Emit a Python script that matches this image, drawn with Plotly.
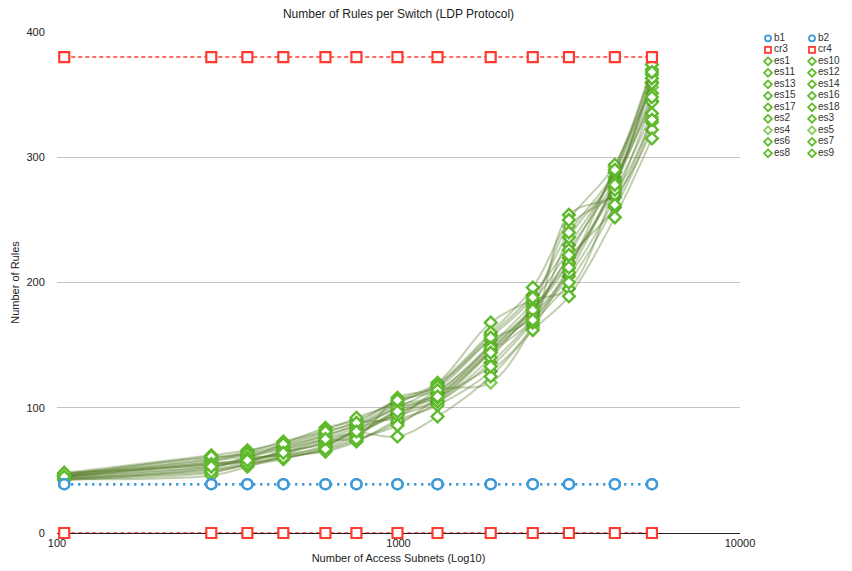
import plotly.graph_objects as go

# Number of access subnets (x, log scale)
subnets = [105, 283, 361, 460, 611, 753, 993, 1301, 1862, 2473, 3155, 4300, 5522]

# Border / core switches
b1 = [39, 39, 39, 39, 39, 39, 39, 39, 39, 39, 39, 39, 39]
b2 = [39, 39, 39, 39, 39, 39, 39, 39, 39, 39, 39, 39, 39]
cr3 = [380, 380, 380, 380, 380, 380, 380, 380, 380, 380, 380, 380, 380]
cr4 = [0, 0, 0, 0, 0, 0, 0, 0, 0, 0, 0, 0, 0]

# Edge switches
es1 = [45, 55, 58, 64, 72, 80, 95, 112, 150, 178, 215, 280, 360]
es2 = [47, 60, 62, 68, 78, 86, 104, 118, 158, 190, 230, 288, 370]
es3 = [43, 48, 55, 60, 66, 74, 88, 104, 136, 170, 205, 268, 345]
es4 = [44, 52, 60, 62, 70, 82, 100, 108, 146, 182, 245, 272, 332]
es5 = [46, 57, 64, 70, 80, 88, 92, 114, 120, 164, 211, 292, 356]
es6 = [42, 50, 54, 59, 68, 78, 96, 106, 144, 176, 220, 260, 328]
es7 = [48, 62, 66, 72, 84, 90, 106, 120, 168, 186, 195, 276, 366]
es8 = [45, 54, 57, 66, 74, 76, 108, 116, 154, 172, 236, 284, 351]
es9 = [43, 46, 53, 61, 65, 73, 90, 102, 129, 166, 254, 270, 322]
es10 = [46, 58, 61, 67, 76, 84, 102, 110, 150, 184, 226, 282, 359]
es11 = [44, 53, 59, 63, 73, 80, 77, 93, 125, 162, 189, 252, 315]
es12 = [47, 59, 65, 73, 82, 92, 104, 119, 160, 196, 250, 294, 374]
es13 = [45, 56, 57, 65, 71, 79, 98, 111, 146, 174, 208, 280, 344]
es14 = [43, 51, 56, 62, 69, 83, 94, 105, 140, 180, 216, 274, 335]
es15 = [46, 61, 63, 69, 78, 86, 100, 117, 156, 188, 240, 288, 363]
es16 = [44, 49, 55, 60, 67, 75, 86, 108, 133, 168, 200, 262, 330]
es17 = [48, 55, 60, 71, 81, 88, 106, 114, 148, 178, 222, 290, 368]
es18 = [45, 53, 58, 64, 75, 81, 97, 109, 144, 170, 212, 278, 348]

x_tick_vals = [100, 1000, 10000]
x_tick_text = ["100", "1000", "10000"]
y_tick_vals = [0, 100, 200, 300, 400]

edge = {
    "es1": es1, "es2": es2, "es3": es3, "es4": es4, "es5": es5, "es6": es6,
    "es7": es7, "es8": es8, "es9": es9, "es10": es10, "es11": es11,
    "es12": es12, "es13": es13, "es14": es14, "es15": es15, "es16": es16,
    "es17": es17, "es18": es18,
}

FONT = "Liberation Sans, Arial, sans-serif"
BLUE = "#3d9ad6"
RED = "#ff3b30"
GREEN = "#5fba2c"
GREEN_LIGHT = "#86cc5c"
LINE_GREEN = "rgba(84,122,36,0.36)"

style = {}
for n in ("b1", "b2"):
    style[n] = dict(symbol="circle", color=BLUE)
for n in ("cr3", "cr4"):
    style[n] = dict(symbol="square", color=RED)
for n in edge:
    style[n] = dict(symbol="diamond",
                    color=GREEN_LIGHT if n in ("es4", "es5") else GREEN)

fig = go.Figure()

# Edge switch curves
for name, vals in edge.items():
    fig.add_trace(go.Scatter(
        x=subnets, y=vals, name=name, mode="lines+markers",
        line=dict(color=LINE_GREEN, width=2, shape="spline", smoothing=1.0),
        marker=dict(symbol="diamond", size=9, color="white",
                    line=dict(color=style[name]["color"], width=2.4)),
        cliponaxis=False, showlegend=False,
    ))

# Border switches (dotted)
for name, vals in (("b1", b1), ("b2", b2)):
    fig.add_trace(go.Scatter(
        x=subnets, y=vals, name=name, mode="lines+markers",
        line=dict(color=BLUE, width=2.5, dash="2px,5px"),
        marker=dict(symbol="circle", size=10, color="white",
                    line=dict(color=BLUE, width=2.5)),
        cliponaxis=False, showlegend=False,
    ))

# Core switches (dashed)
for name, vals in (("cr3", cr3), ("cr4", cr4)):
    fig.add_trace(go.Scatter(
        x=subnets, y=vals, name=name, mode="lines+markers",
        line=dict(color=RED, width=1.5, dash="4px,3px"),
        marker=dict(symbol="square", size=10, color="white",
                    line=dict(color=RED, width=2.2)),
        cliponaxis=False, showlegend=False,
    ))

# Two-column legend on its own pixel-scaled axes
names = sorted(style.keys())
row_y0, row_step = 38.3, 11.5
col_x = [768, 812]
for k, name in enumerate(names):
    r, c = divmod(k, 2)
    ly = row_y0 + r * row_step
    fig.add_trace(go.Scatter(
        x=[col_x[c]], y=[ly], xaxis="x2", yaxis="y2", mode="markers",
        marker=dict(symbol=style[name]["symbol"], size=6, color="white",
                    line=dict(color=style[name]["color"], width=1.8)),
        cliponaxis=False, showlegend=False, hoverinfo="skip",
    ))
    fig.add_trace(go.Scatter(
        x=[col_x[c] + 6], y=[ly], xaxis="x2", yaxis="y2", mode="text",
        text=[name], textposition="middle right",
        textfont=dict(family=FONT, size=10, color="#333333"),
        cliponaxis=False, showlegend=False, hoverinfo="skip",
    ))

W, H = 852, 571
ML, MR, MT, MB = 57, 0, 32, 38
plot_w = W - ML - MR
main_right = 683 / plot_w

fig.update_layout(
    width=W, height=H, autosize=False, showlegend=False,
    margin=dict(l=ML, r=MR, t=MT, b=MB, autoexpand=False),
    paper_bgcolor="white", plot_bgcolor="white",
    font=dict(family=FONT, size=11, color="#222222"),
    title=dict(text="Number of Rules per Switch (LDP Protocol)",
               x=(ML + 683 / 2) / W, xanchor="center",
               y=1 - 14 / H, yanchor="middle",
               font=dict(family=FONT, size=12, color="#222222")),
    xaxis=dict(
        type="log", range=[2, 4], domain=[0, main_right],
        tickvals=x_tick_vals, ticktext=x_tick_text,
        showgrid=False, zeroline=False,
        showline=True, linecolor="#222222", linewidth=1,
        ticks="", layer="below traces",
        tickfont=dict(family=FONT, size=11, color="#222222"),
        title=dict(text="Number of Access Subnets (Log10)", standoff=6,
                   font=dict(family=FONT, size=11, color="#222222")),
    ),
    yaxis=dict(
        range=[0, 400], tickvals=y_tick_vals,
        showgrid=True, gridcolor="#c4c4c4", gridwidth=1,
        zeroline=False, showline=False,
        ticks="outside", ticklen=9, tickcolor="rgba(0,0,0,0)",
        layer="below traces",
        tickfont=dict(family=FONT, size=11, color="#222222"),
        title=dict(text="Number of Rules", standoff=4,
                   font=dict(family=FONT, size=11, color="#222222")),
    ),
    xaxis2=dict(domain=[main_right, 1], range=[740, 852], visible=False,
                anchor="y2", fixedrange=True),
    yaxis2=dict(domain=[0, 1], range=[533, 32], visible=False,
                anchor="x2", fixedrange=True),
)

fig.write_html("out.html")
